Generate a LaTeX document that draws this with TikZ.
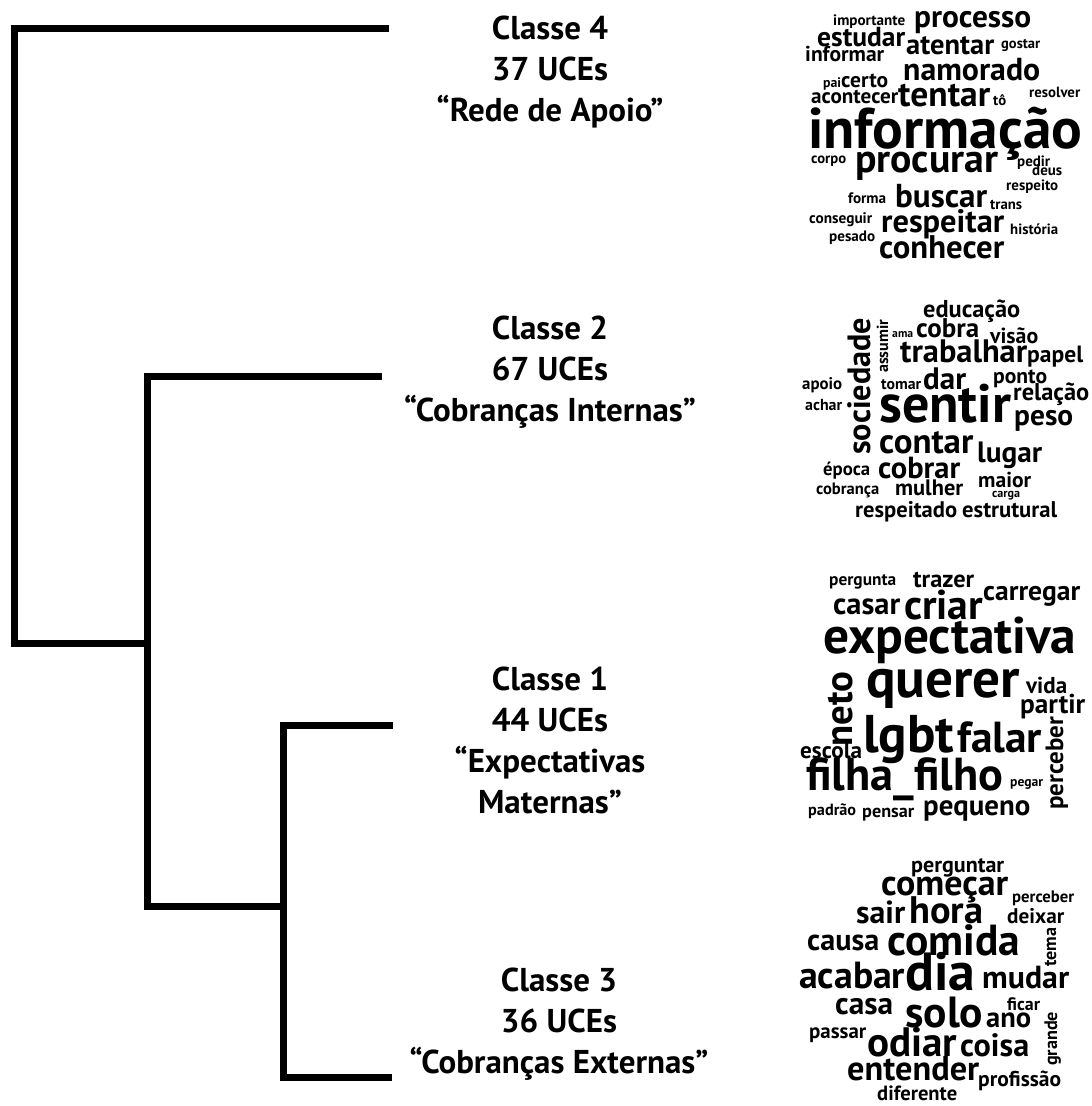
\documentclass[tikz,border=0pt]{standalone}
\usepackage{fontspec}
\usepackage{graphicx}
\setmainfont{PT Sans}

\tikzset{
	dendro/.style={line width=7pt, black},
	classlabel/.style={font=\bfseries\fontsize{33}{41}\selectfont, align=center, anchor=north, inner sep=0pt},
	cloudword/.style={font=\bfseries, anchor=base west, inner sep=0pt},
}

\begin{document}
\begin{tikzpicture}[x=1pt,y=-1pt]
	\useasboundingbox (0,0) rectangle (1092,1106);

	% Draw dendrogram
	\coordinate (end4) at (389,28.5);
	\coordinate (end2) at (382,376);
	\coordinate (end1) at (393,725);
	\coordinate (end3) at (392,1077);
	\coordinate (root) at (14,643);
	\coordinate (j2) at (147,643);
	\coordinate (j3) at (283,906.6);
	\draw[dendro] (end4) -| (root) -- (j2);
	\draw[dendro] (end2) -| (j2 |- j3) -- (j3);
	\draw[dendro] (end1) -| (j3 |- end3) -- (end3);

	% Class labels
	\node[classlabel] (class4) at (550,16) {Classe 4\\37 UCEs\\“Rede de Apoio”};
	\node[classlabel] (class2) at (550,316) {Classe 2\\67 UCEs\\“Cobranças Internas”};
	\node[classlabel] (class1) at (550,667) {Classe 1\\44 UCEs\\“Expectativas\\Maternas”};
	\node[classlabel] (class3) at (559,968) {Classe 3\\36 UCEs\\“Cobranças Externas”};

	% Word cloud, Classe 4
	\foreach \x/\y/\w/\r/\t [count=\i] in {
		833/25/72/0/importante, 914/27/117/0/processo, 817/46/88/0/estudar,
		906/54/88/0/atentar, 1001/48/39/0/gostar, 805/61/79/0/informar,
		903/80/137/0/namorado, 823/87/18/0/pai, 841/87/47/0/certo,
		811/103/87/0/acontecer, 898/106/92/0/tentar, 993/105/13/0/tô,
		1029/97/51/0/resolver, 808/148/274/0/informação, 811/163/35/0/corpo,
		855/172/143/0/procurar, 1017/166/33/0/pedir, 1032/175/30/0/deus,
		1006/190/52/0/respeito, 848/203/38/0/forma, 895/207/92/0/buscar,
		990/209/32/0/trans, 809/223/63/0/conseguir, 881/232/123/0/respeitar,
		1010/234/48/0/história, 829/241/46/0/pesado, 879/258/125/0/conhecer}
		\node[cloudword, rotate=\r] (w4-\i) at (\x,\y) {\resizebox{\w pt}{!}{\t}};

	% Word cloud, Classe 2
	\foreach \x/\y/\w/\r/\t [count=\i] in {
		923/317/97/0/educação, 892/337/21/0/ama, 916/337/63/0/cobra,
		990/343/48/0/visão, 900/362/127/0/trabalhar, 1027/362/56/0/papel,
		802/389/40/0/apoio, 881/389/40/0/tomar, 923/389/43/0/dar,
		993/383/54/0/ponto, 1013/400/76/0/relação, 805/410/37/0/achar,
		879/422/132/0/sentir, 1014/425/59/0/peso, 879/453/94/0/contar,
		977/462/65/0/lugar, 823/475/47/0/época, 878/478/82/0/cobrar,
		978/487/53/0/maior, 816/494/63/0/cobrança, 895/495/68/0/mulher,
		992/497/28/0/carga, 855/517/102/0/respeitado, 962/517/95/0/estrutural,
		870/455/137/90/sociedade, 888/373/53/90/assumir}
		\node[cloudword, rotate=\r] (w2-\i) at (\x,\y) {\resizebox{\w pt}{!}{\t}};

	% Word cloud, Classe 1
	\foreach \x/\y/\w/\r/\t [count=\i] in {
		829/585/67/0/pergunta, 913/587/61/0/trazer, 983/600/97/0/carregar,
		833/614/67/0/casar, 904/619/79/0/criar, 823/653/253/0/expectativa,
		866/697/154/0/querer, 1026/693/41/0/vida, 1020/713/65/0/partir,
		863/752/91/0/lgbt, 957/752/85/0/falar, 800/758/62/0/escola,
		806/790/197/0/filha\_filho, 1010/786/33/0/pegar, 808/815/48/0/padrão,
		862/817/52/0/pensar, 923/815/107/0/pequeno,
		852/747/75/90/neto, 1063/810/93/90/perceber}
		\node[cloudword, rotate=\r] (w1-\i) at (\x,\y) {\resizebox{\w pt}{!}{\t}};

	% Word cloud, Classe 3
	\foreach \x/\y/\w/\r/\t [count=\i] in {
		911/872/93/0/perguntar, 881/895/127/0/começar, 1012/902/62/0/perceber,
		856/923/49/0/sair, 909/923/74/0/hora, 1007/923/57/0/deixar,
		807/950/72/0/causa, 887/955/133/0/comida, 799/988/106/0/acabar,
		905/990/70/0/dia, 982/988/87/0/mudar, 835/1014/58/0/casa,
		1007/1010/33/0/ficar, 905/1027/78/0/solo, 986/1027/45/0/ano,
		809/1038/57/0/passar, 867/1056/90/0/odiar, 960/1056/69/0/coisa,
		847/1080/132/0/entender, 978/1086/83/0/profissão, 877/1100/80/0/diferente,
		1056/967/39/90/tema, 1057/1066/54/90/grande}
		\node[cloudword, rotate=\r] (w3-\i) at (\x,\y) {\resizebox{\w pt}{!}{\t}};
\end{tikzpicture}
\end{document}
